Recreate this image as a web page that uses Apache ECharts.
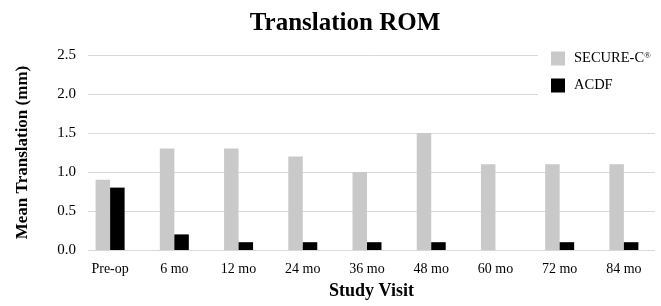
<!DOCTYPE html>
<html>
<head>
<meta charset="utf-8">
<script src="https://cdn.jsdelivr.net/npm/echarts@6/dist/echarts.min.js"></script>
<style>html,body{margin:0;padding:0;background:#fff;}#c{width:661px;height:306px;}</style>
</head>
<body>
<div id="c"></div>
<script>
const categories = ['Pre-op', '6 mo', '12 mo', '24 mo', '36 mo', '48 mo', '60 mo', '72 mo', '84 mo'];
const secureC = [0.9, 1.3, 1.3, 1.2, 1.0, 1.5, 1.1, 1.1, 1.1];
const acdf = [0.8, 0.2, 0.1, 0.1, 0.1, 0.1, null, 0.1, 0.1];
const yTicks = [0, 0.5, 1.0, 1.5, 2.0, 2.5];

const FONT = '"Liberation Serif", "Times New Roman", serif';
const chart = echarts.init(document.getElementById('c'));
chart.setOption({
  animation: false,
  backgroundColor: '#fff',
  title: {
    text: 'Translation ROM',
    left: 340, top: 6, textAlign: 'center',
    textStyle: { fontFamily: FONT, fontWeight: 'bold', fontSize: 25, color: '#000' }
  },
  legend: {
    orient: 'vertical',
    left: 538, top: 44,
    padding: [7, 8, 7, 13],
    backgroundColor: '#fff',
    itemWidth: 14, itemHeight: 14, itemGap: 12,
    icon: 'rect',
    data: ['SECURE-C', 'ACDF'],
    formatter: function (n) { return n === 'SECURE-C' ? '{a|SECURE-C}{b|®}' : '{a|' + n + '}'; },
    textStyle: {
      fontFamily: FONT, color: '#000',
      rich: {
        a: { fontFamily: FONT, fontSize: 14.5, color: '#000', padding: [0, 0, 0, 4] },
        b: { fontFamily: FONT, fontSize: 9, color: '#000', verticalAlign: 'top', padding: [0, 0, 6, 0] }
      }
    }
  },
  grid: [
    { left: 78, right: 5, top: 55, bottom: 56 },
    { left: 88, right: 6, top: 55, bottom: 56 }
  ],
  xAxis: [
    {
      type: 'category', gridIndex: 0, data: categories,
      axisLine: { show: false }, axisTick: { show: false },
      axisLabel: { fontFamily: FONT, fontSize: 14, color: '#000', margin: 12 }
    },
    {
      type: 'category', gridIndex: 1, data: categories, show: true,
      name: 'Study Visit', nameLocation: 'middle', nameGap: 32,
      nameTextStyle: { fontFamily: FONT, fontWeight: 'bold', fontSize: 18, color: '#000' },
      axisLine: { show: false }, axisTick: { show: false }, axisLabel: { show: false }
    }
  ],
  yAxis: [
    {
      type: 'value', gridIndex: 0, min: 0, max: 2.5, interval: 0.5, show: false
    },
    {
      type: 'value', gridIndex: 1, min: 0, max: 2.5, interval: 0.5,
      name: 'Mean Translation (mm)', nameLocation: 'middle', nameGap: 57, nameRotate: 90,
      nameTextStyle: { fontFamily: FONT, fontWeight: 'bold', fontSize: 17, color: '#000' },
      axisLine: { show: false }, axisTick: { show: false },
      axisLabel: {
        fontFamily: FONT, fontSize: 15, color: '#000', margin: 12,
        formatter: function (v) { return yTicks.indexOf(v) >= 0 ? v.toFixed(1) : ''; }
      },
      splitLine: { lineStyle: { color: '#d9d9d9', width: 1 } }
    }
  ],
  series: [
    {
      name: 'SECURE-C', type: 'bar', xAxisIndex: 0, yAxisIndex: 0,
      data: secureC, barWidth: 14.5, barGap: '0%',
      itemStyle: { color: '#c9c9c9' }
    },
    {
      name: 'ACDF', type: 'bar', xAxisIndex: 0, yAxisIndex: 0,
      data: acdf, barWidth: 14.5, barGap: '0%',
      itemStyle: { color: '#000' }
    }
  ]
});
</script>
</body>
</html>
